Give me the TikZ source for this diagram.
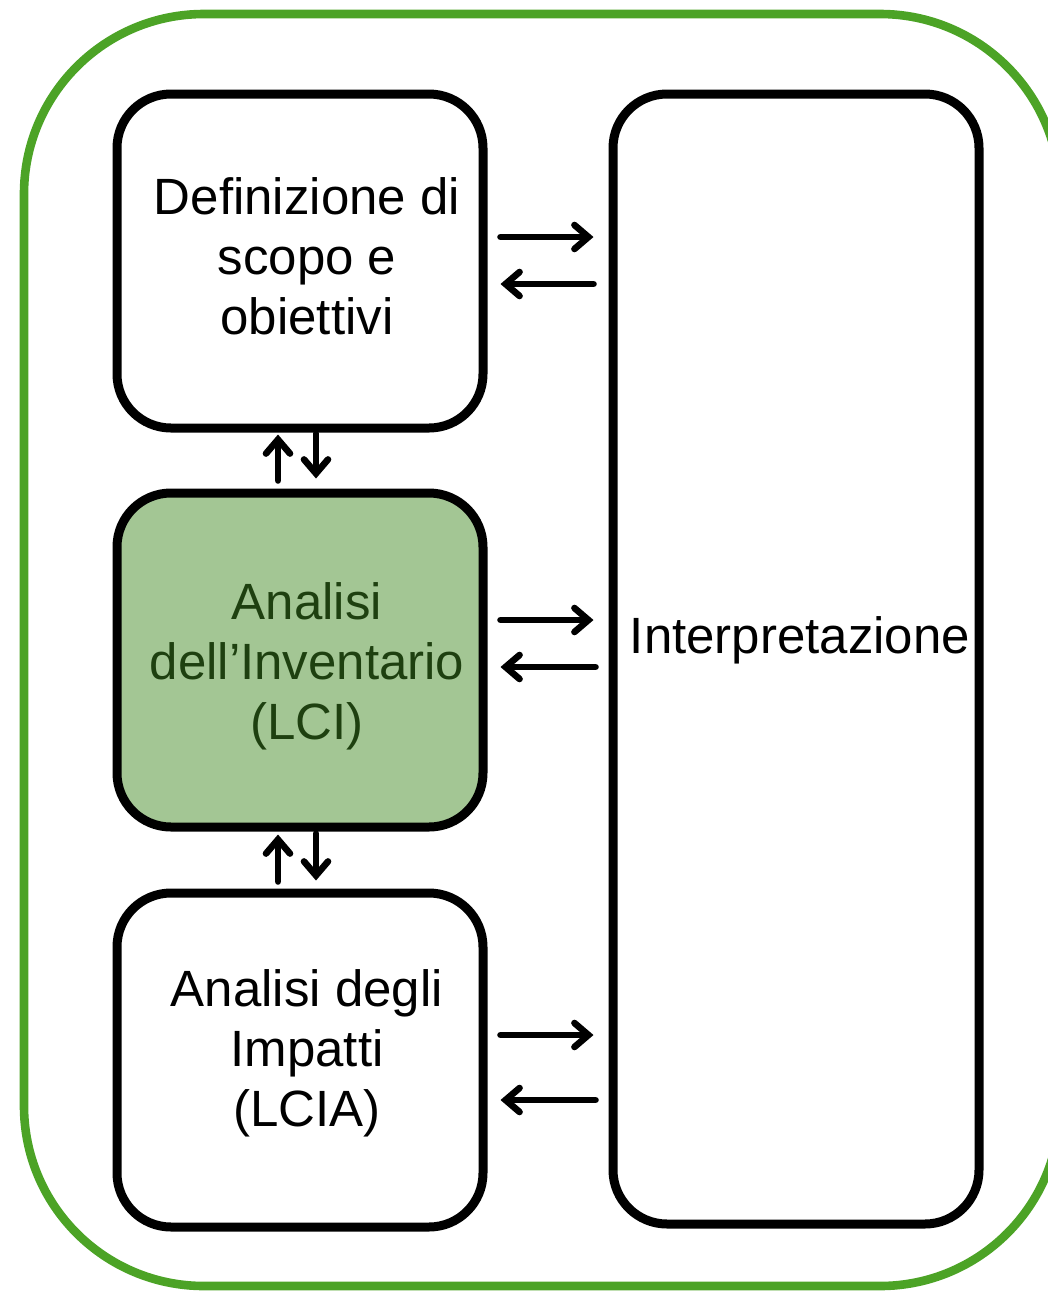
\documentclass[tikz,border=0pt]{standalone}
\usepackage{fontspec}
\setmainfont{Liberation Sans}
\usetikzlibrary{arrows.meta}

\definecolor{framegreen}{RGB}{76,163,38}
\definecolor{lcifill}{RGB}{163,198,148}
\definecolor{lcitext}{RGB}{30,64,16}

\begin{document}
\begin{tikzpicture}[x=0.5pt, y=-0.5pt, line cap=round, line join=round,
    phase/.style={draw=black, line width=4.5pt, rounded corners=27pt, fill=white,
      minimum width=183pt, minimum height=167pt, inner sep=0pt},
    caption/.style={align=center, font=\fontsize{25.5}{30}\selectfont},
    flow/.style={line width=3.3pt, -{Straight Barb[length=7pt, width=12pt, line cap=round]}}]
    \useasboundingbox (0,0) rectangle (1048,1291);

    % outer frame
    \draw[framegreen, line width=4.3pt, rounded corners=90pt] (24,14) rectangle (1060,1286);

    \node[phase] (def) at (300,261) {};
    \node[phase, fill=lcifill] (inv) at (300,660) {};
    \node[phase] (imp) at (300,1060) {};
    \node[phase, minimum height=565pt] (interp) at (796,659) {};

    \node[caption] (deftext) at (307,256) {Definizione di\\scopo e\\obiettivi};
    \node[caption, text=lcitext] (invtext) at (307,666) {Analisi\\dell’Inventario\\(LCI)};
    \node[caption] (imptext) at (307,1053) {Analisi degli\\Impatti\\(LCIA)};
    \node[caption] (interptext) at (800,640) {Interpretazione};

    % vertical links
    \draw[flow] ([xshift=-11pt,yshift=4pt]inv.north) -- ([xshift=-11pt,yshift=-1pt]def.south);
    \draw[flow] ([xshift=8pt,yshift=-0.5pt]def.south) -- ([xshift=8pt,yshift=5pt]inv.north);
    \draw[flow] ([xshift=-11pt,yshift=3.5pt]imp.north) -- ([xshift=-11pt,yshift=-1.5pt]inv.south);
    \draw[flow] ([xshift=8pt,yshift=-1pt]inv.south) -- ([xshift=8pt,yshift=4pt]imp.north);

    % links to interpretazione
    \draw[flow] ([xshift=6.5pt,yshift=12pt]def.east) -- ([xshift=-7.5pt,yshift=12pt]def.east -| interp.west);
    \draw[flow] ([xshift=-7.5pt,yshift=-11.5pt]def.east -| interp.west) -- ([xshift=6.5pt,yshift=-11.5pt]def.east);
    \draw[flow] ([xshift=6.5pt,yshift=20pt]inv.east) -- ([xshift=-7.5pt,yshift=20pt]inv.east -| interp.west);
    \draw[flow] ([xshift=-6.5pt,yshift=-3.5pt]inv.east -| interp.west) -- ([xshift=6.5pt,yshift=-3.5pt]inv.east);
    \draw[flow] ([xshift=6.5pt,yshift=12.5pt]imp.east) -- ([xshift=-7.5pt,yshift=12.5pt]imp.east -| interp.west);
    \draw[flow] ([xshift=-6.5pt,yshift=-20pt]imp.east -| interp.west) -- ([xshift=6.5pt,yshift=-20pt]imp.east);
\end{tikzpicture}
\end{document}
